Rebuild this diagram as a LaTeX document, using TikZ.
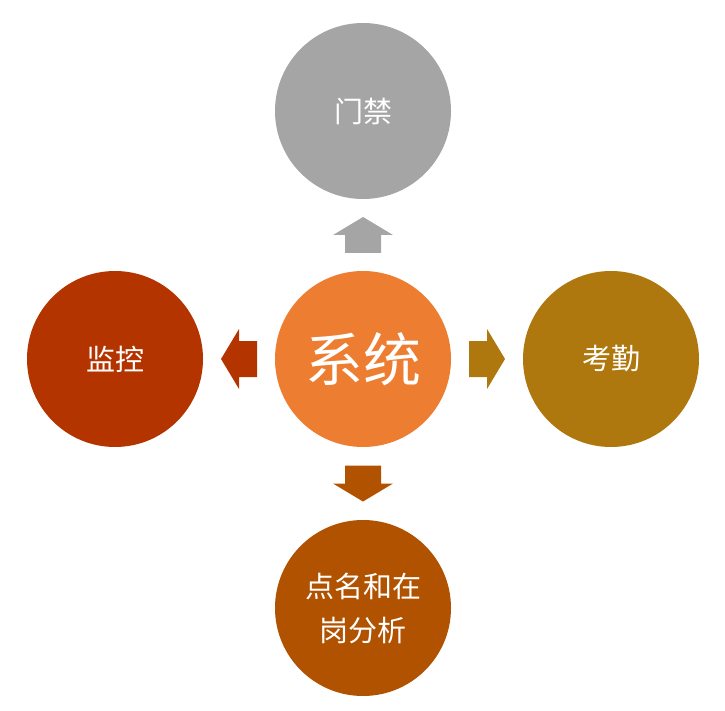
\documentclass[tikz,border=0pt]{standalone}
\usepackage{fontspec}
\setmainfont{Noto Sans CJK SC}
\definecolor{cOrange}{HTML}{ED7D31}
\definecolor{cGray}{HTML}{A5A5A5}
\definecolor{cRed}{HTML}{B43400}
\definecolor{cGold}{HTML}{AE780F}
\definecolor{cBrown}{HTML}{B05200}
\tikzset{
  bubble/.style={circle, minimum size=176pt, inner sep=0pt, text=white, align=center,
    font=\fontsize{29}{44}\selectfont},
  blockarrow/.pic={\fill (-18,18) -- (0,18) -- (0,30) -- (18,0) -- (0,-30) -- (0,-18) -- (-18,-18) -- cycle;}
}
\begin{document}
\begin{tikzpicture}[x=1pt,y=-1pt]
\useasboundingbox (0,0) rectangle (725,711);
\node[bubble, fill=cOrange, font=\fontsize{58}{60}\selectfont] (c) at (363,359) {系统};
\node[bubble, fill=cGray] (t) at (363,111) {门禁};
\node[bubble, fill=cRed] (l) at (115,359) {监控};
\node[bubble, fill=cGold] (r) at (611,359) {考勤};
\node[bubble, fill=cBrown] (b) at (363,608) {点名和在\\岗分析};
\path (c.north) -- (t.south) coordinate[midway] (mt);
\path (c.west) -- (l.east) coordinate[midway] (ml);
\path (c.east) -- (r.west) coordinate[midway] (mr);
\path (c.south) -- (b.north) coordinate[midway] (mb);
\pic[fill=cGray, rotate=90] at (mt) {blockarrow};
\pic[fill=cRed, rotate=180] at (ml) {blockarrow};
\pic[fill=cGold] at (mr) {blockarrow};
\pic[fill=cBrown, rotate=-90] at (mb) {blockarrow};
\end{tikzpicture}
\end{document}
